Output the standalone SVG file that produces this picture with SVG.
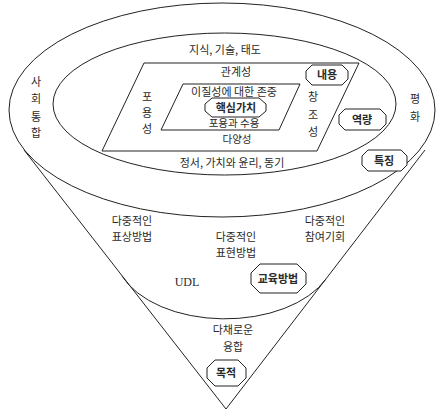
<svg xmlns="http://www.w3.org/2000/svg" width="436" height="414" viewBox="0 0 436 414">
<style>
.ln{fill:none;stroke:#222;stroke-width:1}
.bx{fill:#fff;stroke:#222;stroke-width:1}
text{font-family:"Noto Sans CJK KR","Noto Sans",sans-serif;font-size:11px;fill:#2a2a2a;text-anchor:middle}
.b{font-weight:bold}
.s{font-size:10.5px}
.udl{font-family:"Liberation Serif",serif;font-size:12px}
</style>
<rect width="436" height="414" fill="#fff"/>
<g id="connectors">
<ellipse class="ln" cx="222" cy="110" rx="213" ry="107"/>
<path class="ln" d="M24,150 L226,409 L425,150"/>
<path class="ln" d="M122,276 A110,66 0 0,0 326,279"/>
<ellipse class="ln" cx="224.5" cy="104" rx="171.5" ry="71"/>
<polygon class="ln" points="144,63 359,63 317,151 102,151"/>
<polygon class="ln" points="183,84 300,84 279,130 161,130"/>
</g>
<g id="outer-labels">
<text x="36" y="86">사</text><text x="36" y="103">회</text><text x="36" y="121">통</text><text x="36" y="137">합</text>
<text x="415" y="103">평</text><text x="415" y="121">화</text>
</g>
<g id="ring-labels">
<text x="225" y="54">지식, 기술, 태도</text>
<text x="232" y="167">정서, 가치와 윤리, 동기</text>
</g>
<g id="content-labels">
<text x="236" y="76">관계성</text>
<text x="147" y="101">포</text><text x="147" y="117">용</text><text x="147" y="133">성</text>
<text x="313" y="101">창</text><text x="313" y="119">조</text><text x="313" y="136">성</text>
<text class="s" x="237" y="143">다양성</text>
</g>
<g id="core-labels">
<text x="234" y="96">이질성에 대한 존중</text>
<text class="s" x="234" y="126.5">포용과 수용</text>
</g>
<g id="core">
<polygon class="bx" points="212,98 259,98 266,104 266,111 259,117 212,117 205,111 205,104"/>
<text class="b" x="236" y="111.5">핵심가치</text>
</g>
<g id="badge-content">
<polygon class="bx" points="312,65 342,65 348,71 348,79 342,85 312,85 306,79 306,71"/>
<text class="b" x="327" y="79">내용</text>
</g>
<g id="badge-competency">
<polygon class="bx" points="345,109 380,109 386,115 386,124 380,130 345,130 339,124 339,115"/>
<text class="b" x="362" y="124">역량</text>
</g>
<g id="badge-feature">
<polygon class="bx" points="368,150 401,150 407,156 407,165 401,171 368,171 362,165 362,156"/>
<text class="b" x="384" y="165">특징</text>
</g>
<g id="udl-labels">
<text x="132" y="225">다중적인</text><text x="132" y="241">표상방법</text>
<text x="236" y="241">다중적인</text><text x="236" y="257">표현방법</text>
<text x="325" y="225">다중적인</text><text x="325" y="241">참여기회</text>
<text class="udl" x="187" y="286">UDL</text>
</g>
<g id="badge-method">
<polygon class="bx" points="260,264 297,264 306,273 306,284 297,293 260,293 251,284 251,273"/>
<text class="b" x="278" y="283">교육방법</text>
</g>
<g id="goal-labels">
<text x="233" y="334">다채로운</text><text x="233" y="351">융합</text>
</g>
<g id="badge-goal">
<polygon class="bx" points="215,360 238,360 246,368 246,378 238,386 215,386 207,378 207,368"/>
<text class="b" x="226" y="377">목적</text>
</g>
</svg>
